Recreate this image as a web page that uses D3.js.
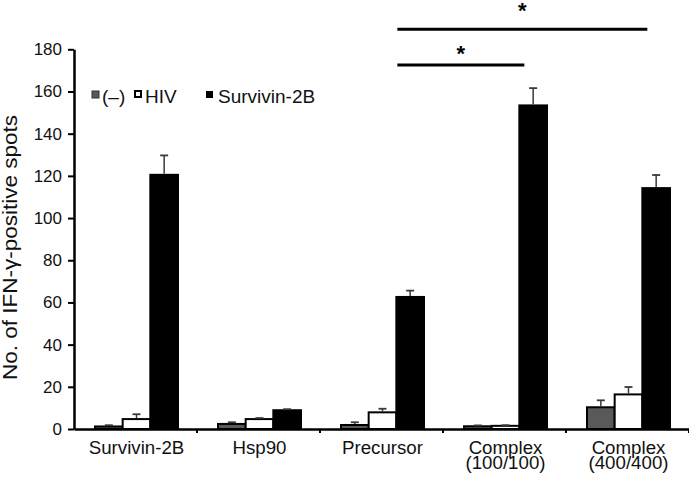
<!DOCTYPE html>
<html>
<head>
<meta charset="utf-8">
<script src="https://cdn.jsdelivr.net/npm/d3@7"></script>
<style>
  body { margin: 0; background: #fff; }
  svg { display: block; font-family: "Liberation Sans", Arial, Helvetica, sans-serif; }
</style>
</head>
<body>
<svg id="chart" width="689" height="481"></svg>
<script>
// values
var categories = ["Survivin-2B", "Hsp90", "Precursor", "Complex\n(100/100)", "Complex\n(400/400)"];
var seriesNames = ["(\u2013)", "HIV", "Survivin-2B"];
var negValues  = [1.2, 2.4, 1.9, 1.3, 10.3];
var negErrors  = [0.6, 0.8, 1.3, 0.4, 3.3];
var hivValues  = [4.7, 4.7, 7.9, 1.5, 16.4];
var hivErrors  = [2.3, 0.5, 1.7, 0.3, 3.5];
var survValues = [120.5, 8.9, 62.6, 153.4, 114.2];
var survErrors = [9.2, 0.5, 3.0, 8.2, 6.2];
var yTicks = [0, 20, 40, 60, 80, 100, 120, 140, 160, 180];
// significance brackets: from category index, to category index, height (y units)
var sigFrom = [2, 2];
var sigTo = [3, 4];
var sigLevel = [172.5, 189.5];

var svg = d3.select("#chart");
var plotLeft = 74, plotRight = 689, plotTop = 49.3, plotBottom = 429;
var fillColors = ["#595959", "#ffffff", "#000000"];
var starLift = [4, 11];   // px between bracket line and star baseline

var x0 = d3.scaleBand().domain(categories).range([plotLeft, plotRight]).padding(0);
var x1 = d3.scaleBand().domain(seriesNames).range([21, 104]).padding(0);
var y = d3.scaleLinear().domain([0, 180]).range([plotBottom, plotTop]);

var series = [
  { name: seriesNames[0], values: negValues, errors: negErrors },
  { name: seriesNames[1], values: hivValues, errors: hivErrors },
  { name: seriesNames[2], values: survValues, errors: survErrors }
];

var rows = [];
series.forEach(function (s, si) {
  categories.forEach(function (c, ci) {
    rows.push({ cat: c, name: s.name, si: si, value: s.values[ci], err: s.errors[ci] });
  });
});

// bars
svg.append("g").selectAll("rect").data(rows).enter().append("rect")
  .attr("x", function (d) { return x0(d.cat) + x1(d.name); })
  .attr("y", function (d) { return y(d.value); })
  .attr("width", x1.bandwidth())
  .attr("height", function (d) { return y(0) - y(d.value); })
  .attr("fill", function (d) { return fillColors[d.si]; })
  .attr("stroke", "#000")
  .attr("stroke-width", 2);

// error bars (upper only)
var eb = svg.append("g").attr("stroke", "#3a3a3a");
eb.selectAll("line.stem").data(rows).enter().append("line")
  .attr("class", "stem")
  .attr("x1", function (d) { return x0(d.cat) + x1(d.name) + x1.bandwidth() / 2; })
  .attr("x2", function (d) { return x0(d.cat) + x1(d.name) + x1.bandwidth() / 2; })
  .attr("y1", function (d) { return y(d.value) - 1; })
  .attr("y2", function (d) { return y(d.value + d.err); })
  .attr("stroke-width", 1.5);
eb.selectAll("line.cap").data(rows).enter().append("line")
  .attr("class", "cap")
  .attr("x1", function (d) { return x0(d.cat) + x1(d.name) + x1.bandwidth() / 2 - 4; })
  .attr("x2", function (d) { return x0(d.cat) + x1(d.name) + x1.bandwidth() / 2 + 4; })
  .attr("y1", function (d) { return y(d.value + d.err); })
  .attr("y2", function (d) { return y(d.value + d.err); })
  .attr("stroke-width", 1.8);

// y axis
var yAxis = svg.append("g")
  .attr("transform", "translate(" + plotLeft + ",0)")
  .call(d3.axisLeft(y).tickValues(yTicks).tickSize(6).tickSizeOuter(0).tickPadding(6));
yAxis.select(".domain").attr("stroke", "#000").attr("stroke-width", 2.5);
yAxis.selectAll(".tick line").attr("stroke", "#000").attr("stroke-width", 2);
yAxis.selectAll(".tick text").attr("font-size", 17).attr("fill", "#111")
  .attr("font-family", "'Liberation Sans', Arial, sans-serif");

// x axis
var xAxis = svg.append("g")
  .attr("transform", "translate(0," + plotBottom + ")")
  .call(d3.axisBottom(x0).tickSize(0).tickSizeOuter(0).tickFormat(""));
xAxis.select(".domain").attr("stroke", "#000").attr("stroke-width", 2.5);
svg.append("g").selectAll("line").data(categories).enter().append("line")
  .attr("x1", function (d) { return x0(d) + x0.bandwidth(); })
  .attr("x2", function (d) { return x0(d) + x0.bandwidth(); })
  .attr("y1", plotBottom).attr("y2", plotBottom + 4)
  .attr("stroke", "#000").attr("stroke-width", 2);

var xl = svg.append("g").selectAll("text").data(categories).enter().append("text")
  .attr("x", function (d) { return x0(d) + x0.bandwidth() / 2 + 1; })
  .attr("y", 454)
  .attr("text-anchor", "middle")
  .attr("font-size", 18.7)
  .attr("fill", "#111");
xl.each(function (d) {
  var t = d3.select(this);
  d.split("\n").forEach(function (line, i) {
    t.append("tspan")
      .attr("x", t.attr("x"))
      .attr("dy", i === 0 ? 0 : 15)
      .text(line);
  });
});

// y title
svg.append("text")
  .attr("transform", "translate(17,247.5) rotate(-90)")
  .attr("text-anchor", "middle")
  .attr("font-size", 20)
  .attr("fill", "#111")
  .attr("textLength", 265)
  .attr("lengthAdjust", "spacingAndGlyphs")
  .text("No. of IFN-\u03b3-positive spots");

// legend
var legendX = [92, 135, 206];
var legendTextX = [102, 145, 218];
var lg = svg.append("g");
series.forEach(function (s, i) {
  lg.append("rect")
    .attr("x", legendX[i]).attr("y", 91)
    .attr("width", i === 1 ? 6 : 7).attr("height", i === 1 ? 6 : 7)
    .attr("fill", fillColors[i])
    .attr("stroke", i === 1 ? "#000" : (i === 0 ? "#333" : "none"))
    .attr("stroke-width", i === 1 ? 2 : 1);
  lg.append("text")
    .attr("x", legendTextX[i]).attr("y", 102.5)
    .attr("font-size", 19)
    .attr("fill", "#111")
    .text(s.name);
});

// significance lines
var sg = svg.append("g");
sigFrom.forEach(function (f, i) {
  var xa = x0(categories[f]) + x1(seriesNames[2]) + 1;
  var xb = x0(categories[sigTo[i]]) + x1(seriesNames[2]) + 5;
  sg.append("line")
    .attr("x1", xa).attr("x2", xb)
    .attr("y1", y(sigLevel[i])).attr("y2", y(sigLevel[i]))
    .attr("stroke", "#000").attr("stroke-width", 3);
  sg.append("text")
    .attr("x", (xa + xb) / 2)
    .attr("y", y(sigLevel[i]) - starLift[i])
    .attr("text-anchor", "middle")
    .attr("font-size", 22)
    .attr("font-weight", "bold")
    .text("*");
});
</script>
</body>
</html>
